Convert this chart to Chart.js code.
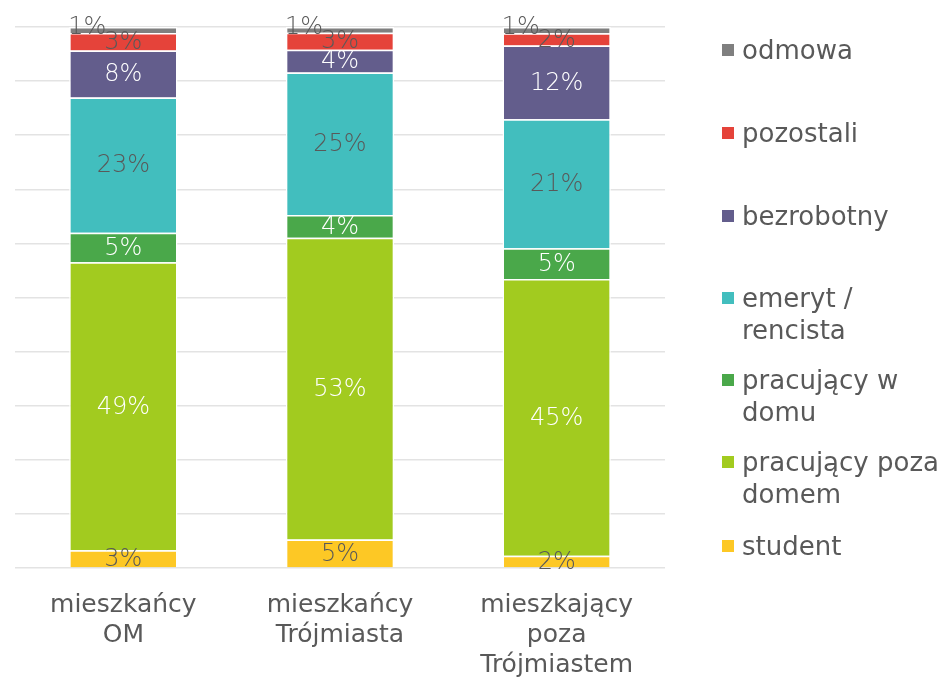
<!DOCTYPE html>
<html>
<head>
<meta charset="utf-8">
<script src="https://cdn.jsdelivr.net/npm/chart.js@4/dist/chart.umd.min.js"></script>
<style>
  body { margin: 0; background: #fff; }
  #wrap { position: relative; width: 951px; height: 680px; overflow: hidden; }
  #legenda { position: absolute; left: 722px; top: 0; font-family: 'DejaVu Sans', sans-serif; font-size: 26px; color: #595959; }
  #legenda .item { position: absolute; left: 0; width: 230px; white-space: pre-line; line-height: 32px; padding-left: 20px; }
  #legenda .box { position: absolute; left: 0; top: 10px; width: 12px; height: 12px; }
</style>
</head>
<body>
<div id="wrap">
  <canvas id="wykres" width="951" height="680"></canvas>
  <div id="legenda"></div>
</div>
<script>
// kategorie i dane (procenty z wykresu)
let kategorie = [['mieszkańcy', 'OM'], ['mieszkańcy', 'Trójmiasta'], ['mieszkający', 'poza', 'Trójmiastem']];
let student = [3, 5, 2];
let pozaDomem = [49, 53, 45];
let wDomu = [5, 4, 5];
let emeryt = [23, 25, 21];
let bezrobotny = [8, 4, 12];
let pozostali = [3, 3, 2];
let odmowa = [1, 1, 1];

let serie = [
    { nazwa: 'student', dane: student, kolor: '#fdc825', tekst: '#595959' },
    { nazwa: 'pracujący poza\ndomem', dane: pozaDomem, kolor: '#a2cb1f', tekst: '#ffffff' },
    { nazwa: 'pracujący w\ndomu', dane: wDomu, kolor: '#4aa84a', tekst: '#ffffff' },
    { nazwa: 'emeryt /\nrencista', dane: emeryt, kolor: '#42bebe', tekst: '#595959' },
    { nazwa: 'bezrobotny', dane: bezrobotny, kolor: '#635d8c', tekst: '#ffffff' },
    { nazwa: 'pozostali', dane: pozostali, kolor: '#e5433a', tekst: '#595959' },
    { nazwa: 'odmowa', dane: odmowa, kolor: '#7f7f7f', tekst: '#595959', przesun: -36 }
];

// suma w każdej kolumnie - słupki są 100%
let sumy = kategorie.map(function (k, i) {
    return serie.reduce(function (s, seria) { return s + seria.dane[i]; }, 0);
});

let etykiety = {
    id: 'etykiety',
    afterDatasetsDraw: function (chart) {
        let ctx = chart.ctx;
        ctx.save();
        ctx.font = '200 24px "DejaVu Sans", sans-serif';
        ctx.textAlign = 'center';
        ctx.textBaseline = 'middle';
        chart.data.datasets.forEach(function (ds, d) {
            let meta = chart.getDatasetMeta(d);
            meta.data.forEach(function (el, i) {
                let y = (el.y + el.base) / 2;
                let x = el.x + (ds.przesun || 0);
                if (ds.przesun) y -= 3;
                ctx.fillStyle = ds.kolorTekstu;
                ctx.fillText(ds.surowe[i] + '%', x, y + 1);
            });
        });
        ctx.restore();
    }
};

let ctx1 = document.getElementById('wykres').getContext('2d');
let myChart1 = new Chart(ctx1, {
    type: 'bar',
    data: {
        labels: kategorie,
        datasets: serie.map(function (s) {
            return {
                label: s.nazwa.replace('\n', ' '),
                data: s.dane.map(function (v, i) { return v / sumy[i] * 100; }),
                surowe: s.dane,
                backgroundColor: s.kolor,
                borderColor: '#ffffff',
                borderWidth: 1.5,
                kolorTekstu: s.tekst,
                przesun: s.przesun,
                barPercentage: 0.5,
                categoryPercentage: 1
            };
        })
    },
    options: {
        responsive: false,
        animation: false,
        layout: { padding: { left: 15, right: 286, top: 27, bottom: -14 } },
        plugins: {
            legend: { display: false },
            tooltip: { enabled: false }
        },
        scales: {
            x: {
                stacked: true,
                grid: { display: false },
                border: { display: false },
                ticks: { color: '#595959', font: { family: 'DejaVu Sans', size: 25, lineHeight: 1.2 }, padding: 14, maxRotation: 0 }
            },
            y: {
                stacked: true,
                min: 0,
                max: 100,
                ticks: { display: false, stepSize: 10 },
                grid: { color: '#e3e3e3', lineWidth: 1.5, drawTicks: false },
                border: { display: false }
            }
        }
    },
    plugins: [etykiety]
});

// legenda po prawej, w odwrotnej kolejności
let legenda = document.getElementById('legenda');
let pozycje = [34, 117, 200, 282, 364, 446, 530];
serie.slice().reverse().forEach(function (s, i) {
    let el = document.createElement('div');
    el.className = 'item';
    el.style.top = pozycje[i] + 'px';
    el.textContent = s.nazwa;
    let box = document.createElement('span');
    box.className = 'box';
    box.style.background = s.kolor;
    el.appendChild(box);
    legenda.appendChild(el);
});
</script>
</body>
</html>
